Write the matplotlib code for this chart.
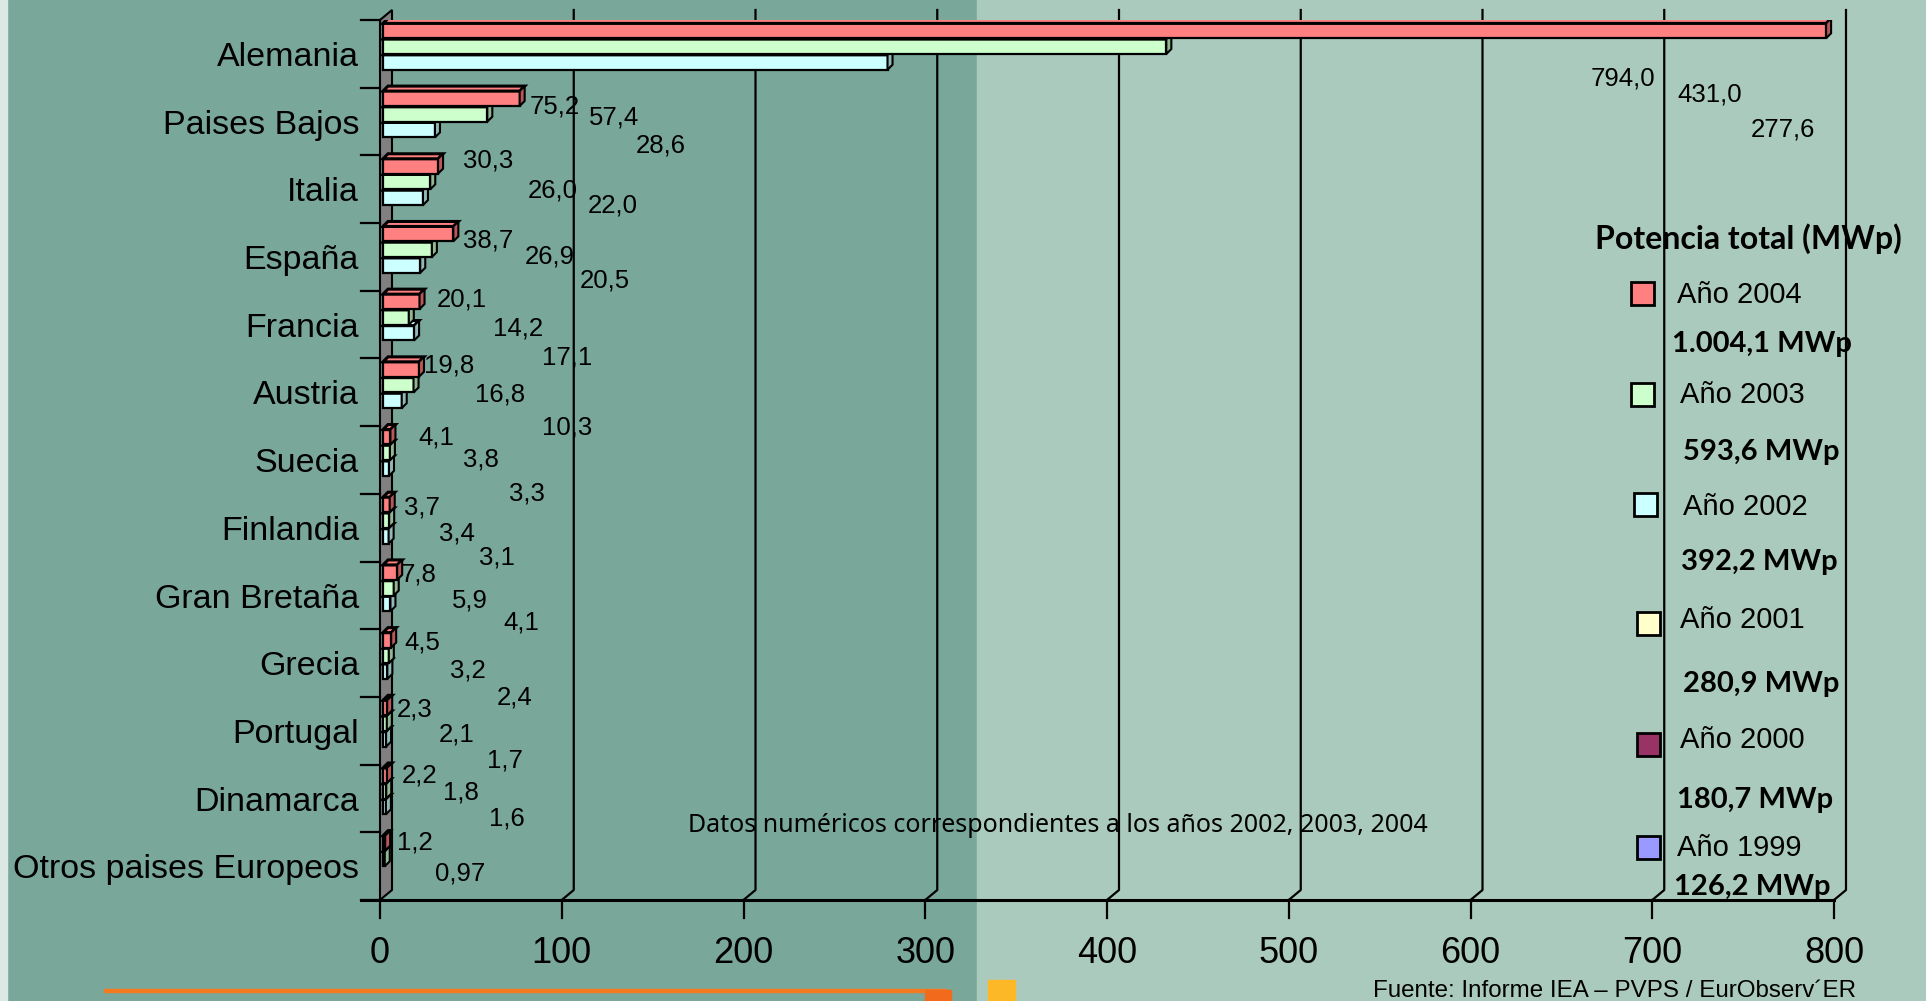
import numpy as np
import matplotlib
matplotlib.use('Agg')
import matplotlib.pyplot as plt
from matplotlib.patches import Polygon, Rectangle

# datos (MWp)
paises = ['Alemania', 'Paises Bajos', 'Italia', 'España', 'Francia', 'Austria', 'Suecia',
          'Finlandia', 'Gran Bretaña', 'Grecia', 'Portugal', 'Dinamarca',
          'Otros paises Europeos']
anio_2004 = [794.0, 75.2, 30.3, 38.7, 20.1, 19.8, 4.1, 3.7, 7.8, 4.5, 2.3, 2.2, 1.2]
anio_2003 = [431.0, 57.4, 26.0, 26.9, 14.2, 16.8, 3.8, 3.4, 5.9, 3.2, 2.1, 1.8, 0.97]
anio_2002 = [277.6, 28.6, 22.0, 20.5, 17.1, 10.3, 3.3, 3.1, 4.1, 2.4, 1.7, 1.6, np.nan]
ticks_x = [0, 100, 200, 300, 400, 500, 600, 700, 800]

leyenda_anios = ['Año 2004', 'Año 2003', 'Año 2002', 'Año 2001', 'Año 2000', 'Año 1999']
leyenda_totales = ['1.004,1 MWp', '593,6 MWp', '392,2 MWp', '280,9 MWp', '180,7 MWp', '126,2 MWp']

# colores
col_serie = ['#FF8080', '#CCFFCC', '#CCFFFF', '#FFFFCC', '#993366', '#9999FF']
col_lado = ['#B85858', '#92B892', '#92B8B8']
fondo_osc = '#79A79A'
fondo_cla = '#ABCABE'

# posiciones de las etiquetas de datos (px, movidas a mano en el original)
pos_etiquetas = [
    [(1591, 76), (1677, 92), (1751, 127)],
    [(530, 104), (589, 115), (636, 143)],
    [(463, 158), (528, 188), (588, 203)],
    [(463, 238), (525, 254), (580, 278)],
    [(437, 297), (493, 326), (542, 355)],
    [(424, 363), (475, 392), (542, 425)],
    [(418, 435), (463, 457), (509, 491)],
    [(404, 505), (439, 531), (479, 555)],
    [(401, 572), (452, 598), (503, 620)],
    [(404, 640), (450, 668), (497, 695)],
    [(397, 707), (439, 732), (487, 758)],
    [(402, 773), (443, 790), (489, 816)],
    [(397, 840), (435, 871), None],
]

W, H = 1926, 1001
X0, X1 = 380, 1834      # px de 0 y 800
YT, YB = 20, 900        # px arriba / abajo (plano frontal)
DX, DY = 12, 10         # profundidad de la pared
BDX, BDY = 5, 5         # profundidad de las barras

fig = plt.figure(figsize=(W / 100, H / 100), dpi=100)
fig.patch.set_facecolor(fondo_osc)
fig.add_artist(Rectangle((977 / W, 0), 1 - 977 / W, 1, transform=fig.transFigure,
                         color=fondo_cla, zorder=0))
fig.add_artist(Rectangle((0, 0), 7 / W, 1, transform=fig.transFigure,
                         color='#DCE8E3', zorder=0))

ax = fig.add_axes([X0 / W, 1 - YB / H, (X1 - X0) / W, (YB - YT) / H])
ax.set_xlim(0, 800)
ax.set_ylim(len(paises), 0)
ax.axis('off')
ax.patch.set_visible(False)

ux = 800 / (X1 - X0)
uy = len(paises) / (YB - YT)
n = len(paises)


def ftext(x, y, s, size, family='Liberation Sans', weight='normal', ha='left'):
    # y = centro visual de las mayusculas
    base = y + 0.357 * size * 100 / 72
    fig.text(x / W, 1 - base / H, s, fontsize=size, family=family, weight=weight,
             ha=ha, va='baseline', color='black')


def fmt(v):
    s = '%.1f' % v if abs(round(v, 1) - v) < 1e-9 else '%.2f' % v
    return s.replace('.', ',')


# pared izquierda
ax.add_patch(Polygon([(0, n), (DX * ux, n - DY * uy), (DX * ux, -DY * uy), (0, 0)],
                     closed=True, facecolor='#808080', edgecolor='black', lw=1.5,
                     clip_on=False, zorder=2))

# rejilla del fondo
for v in ticks_x[1:]:
    ax.plot([v, v + DX * ux, v + DX * ux], [n, n - DY * uy, -DY * uy],
            color='black', lw=1.6, clip_on=False, zorder=1)

# eje x
ax.plot([-19 * ux, 800], [n, n], color='black', lw=2.2, clip_on=False, zorder=6)
for v in ticks_x:
    ax.plot([v, v], [n, n + 18 * uy], color='black', lw=1.6, clip_on=False, zorder=6)
    ftext(X0 + v / ux, 950, str(v), 26, ha='center')

# marcas de categoria
for k in range(n + 1):
    ax.plot([-19 * ux, 0], [k, k], color='black', lw=1.6, clip_on=False, zorder=6)

# barras 3D
series = [anio_2004, anio_2003, anio_2002]
h = 0.22
izq = 3 * ux
for j in [2, 1, 0]:
    vals = np.array(series[j], dtype=float)
    y_top = np.arange(n) + 0.05 + j * 0.232
    z = 3 + (2 - j)
    ok = ~np.isnan(vals)
    ax.barh(y_top[ok] + h / 2, vals[ok], height=h, left=izq, color=col_serie[j],
            edgecolor='black', lw=1.6, zorder=z)
    for yt, v in zip(y_top[ok], vals[ok]):
        x1 = izq + v
        ax.add_patch(Polygon([(izq, yt), (izq + BDX * ux, yt - BDY * uy),
                              (x1 + BDX * ux, yt - BDY * uy), (x1, yt)],
                             closed=True, facecolor=col_serie[j], edgecolor='black',
                             lw=2.2, zorder=z))
        ax.add_patch(Polygon([(x1, yt), (x1 + BDX * ux, yt - BDY * uy),
                              (x1 + BDX * ux, yt + h - BDY * uy), (x1, yt + h)],
                             closed=True, facecolor=col_lado[j], edgecolor='black',
                             lw=1.5, zorder=z))

# nombres de paises
slot = (YB - YT) / n
for i, p in enumerate(paises):
    ftext(359, YT + (i + 0.5) * slot, p, 24.5, ha='right')

# etiquetas de datos
for i in range(n):
    for j in range(3):
        pos = pos_etiquetas[i][j]
        v = series[j][i]
        if pos is None or np.isnan(v):
            continue
        ftext(pos[0], pos[1], fmt(v), 18.5)

# leyenda
ftext(1595, 237, 'Potencia total (MWp)', 23, family='Lato', weight='bold')
cuadros = [(1631, 282), (1631, 383), (1634, 493), (1637, 612), (1637, 733), (1637, 836)]
pos_anio = [(1677, 293), (1680, 393), (1683, 505), (1680, 618), (1680, 738), (1677, 846)]
pos_total = [(1672, 342), (1683, 450), (1681, 560), (1683, 682), (1677, 798), (1674, 885)]
for k in range(6):
    cx, cy = cuadros[k]
    fig.add_artist(Rectangle((cx / W, 1 - (cy + 23) / H), 23 / W, 23 / H,
                             transform=fig.transFigure, facecolor=col_serie[k],
                             edgecolor='black', lw=2, zorder=5))
    ftext(pos_anio[k][0], pos_anio[k][1], leyenda_anios[k], 21)
    ftext(pos_total[k][0], pos_total[k][1], leyenda_totales[k], 21,
          family='Lato', weight='bold')

ftext(688, 823, 'Datos numéricos correspondientes a los años 2002, 2003, 2004', 18,
      family='Noto Sans')
ftext(1373, 988, 'Fuente: Informe IEA – PVPS / EurObserv´ER', 17.4)

# adornos inferiores
fig.add_artist(Rectangle((104 / W, 1 - 992 / H), 842 / W, 3 / H, transform=fig.transFigure,
                         color='#F47A20', zorder=5))
fig.add_artist(Rectangle((925 / W, 0), 26 / W, 11 / H, transform=fig.transFigure,
                         color='#F26B1D', zorder=5))
fig.add_artist(Rectangle((988 / W, 0), 27 / W, 21 / H, transform=fig.transFigure,
                         color='#FDB827', zorder=5))

fig.savefig('out.png', dpi=100, facecolor=fig.get_facecolor())
